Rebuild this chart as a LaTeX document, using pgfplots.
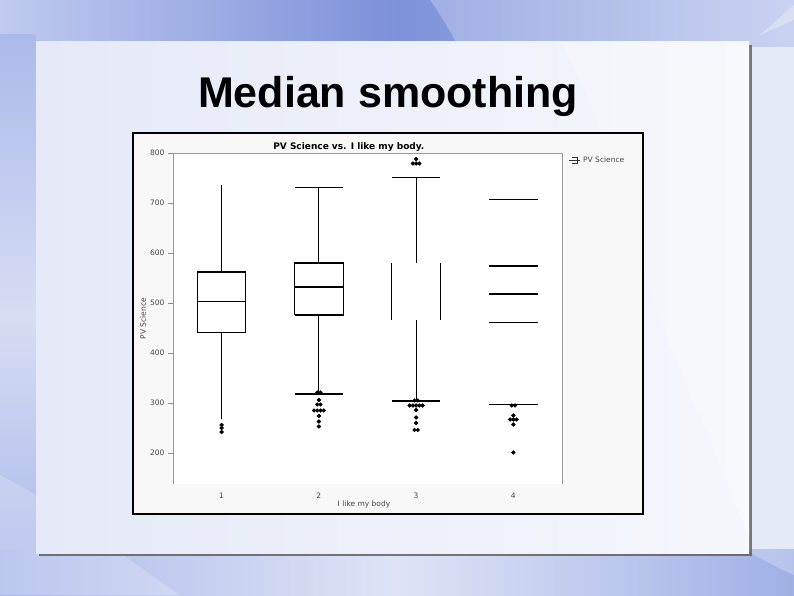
\documentclass[border=0pt]{standalone}
\usepackage{fontspec}
\setmainfont{Liberation Sans}
\newfontfamily\dejavu{DejaVu Sans}
\usepackage{pgfplots}
\pgfplotsset{compat=1.18}
\definecolor{bgbase}{RGB}{221,227,245}
\definecolor{bandL}{RGB}{192,202,239}
\definecolor{bandM}{RGB}{125,145,217}
\definecolor{bandR}{RGB}{184,196,237}
\definecolor{panelL}{RGB}{230,234,248}
\definecolor{panelR}{RGB}{245,247,252}
\definecolor{framebg}{RGB}{248,248,248}
\definecolor{ticktext}{RGB}{70,70,70}
\begin{document}
\begin{tikzpicture}
\begin{scope}[x=1pt,y=1pt]
\useasboundingbox (0,0) rectangle (794,595);
\clip (0,0) rectangle (794,595);
% slide background
\fill[bgbase] (0,0) rectangle (794,595);
\shade[left color=bandL, right color=bandR, middle color=bandM] (0,548) rectangle (794,595);
\shade[top color={rgb,255:red,172;green,186;blue,234}, bottom color={rgb,255:red,168;green,182;blue,232}, middle color={rgb,255:red,214;green,221;blue,244}] (0,0) rectangle (36,560);
\shade[left color={rgb,255:red,172;green,186;blue,234}, right color={rgb,255:red,160;green,176;blue,230}, middle color={rgb,255:red,222;green,228;blue,246}] (0,0) rectangle (794,46);
\fill[white, opacity=0.25] (430,595) .. controls (470,540) and (520,420) .. (560,300) .. controls (600,180) and (660,80) .. (794,20) -- (794,595) -- cycle;
\fill[white, opacity=0.20] (0,120) .. controls (60,90) and (120,40) .. (180,0) -- (0,0) -- cycle;
\fill[white, opacity=0.3] (760,560) -- (794,590) -- (794,575) -- cycle;
% panel
\fill[black!65, opacity=0.8] (39,39) rectangle (752,550);
\shade[left color=panelL, right color=panelR] (36,42) rectangle (749,553);
\fill[white, opacity=0.25] (560,553) .. controls (620,450) and (640,300) .. (700,180) .. controls (720,130) and (735,90) .. (749,60) -- (749,553) -- cycle;
% slide title
\node[anchor=base, font=\bfseries\fontsize{43}{50}\selectfont] at (388,487.7) {Median smoothing};
% chart frame
\filldraw[fill=framebg, draw=black, line width=1.1pt] (133,81) rectangle (643,462);
% legend
\draw[black!80, line width=0.6pt] (572,438) -- (577,438) -- (577,432) -- (572,432) (569,435) -- (580,435);
\node[anchor=west, inner sep=0pt, font=\dejavu\fontsize{7.5}{9}\selectfont, text=ticktext] at (583,435) {PV Science};
\end{scope}
\begin{axis}[
  at={(173pt,111pt)}, anchor=south west,
  scale only axis, width=389pt, height=331pt,
  xmin=0.5, xmax=4.5, ymin=138, ymax=800,
  xtick={1,2,3,4}, ytick={200,300,400,500,600,700,800},
  ytick pos=left, xtick pos=bottom,
  axis background/.style={fill=white},
  axis line style={draw=none},
  tick align=outside,
  xtick style={draw=none},
  ytick style={black!45, line width=0.6pt},
  major tick length=5pt,
  /pgf/number format/assume math mode=true,
  tick label style={font=\dejavu\fontsize{7.5}{9}\selectfont, text=ticktext},
  title={PV Science vs. I like my body.},
  title style={at={(axis description cs:0.452,1.0)}, anchor=center, font=\dejavu\bfseries\fontsize{9}{11}\selectfont},
  xlabel={I like my body},
  xlabel style={at={(axis description cs:0.491,-0.0604)}, anchor=center, font=\dejavu\fontsize{7.5}{9}\selectfont, text=ticktext},
  ylabel={PV Science},
  ylabel style={at={(axis description cs:-0.0771,0.5)}, anchor=center, font=\dejavu\fontsize{7.5}{9}\selectfont, text=ticktext},
  unbounded coords=jump,
  clip=false,
]
% axis frame (left, top, right)
\draw[black!40, line width=0.8pt] (rel axis cs:0,0) -- (rel axis cs:0,1) -- (rel axis cs:1,1) -- (rel axis cs:1,0);
% box 1
\addplot[black, line width=1.1pt, mark=none] coordinates {
 (0.75,441) (1.25,441) (1.25,562) (0.75,562) (0.75,441)
 (nan,nan) (0.75,503) (1.25,503)
 (nan,nan) (1,562) (1,736)
 (nan,nan) (1,441) (1,269)
};
% box 2
\addplot[black, line width=1.1pt, mark=none] coordinates {
 (1.75,476) (2.25,476) (2.25,580) (1.75,580) (1.75,476)
 (nan,nan) (1.75,532) (2.25,532)
 (nan,nan) (2,580) (2,731)
 (nan,nan) (1.75,731) (2.25,731)
 (nan,nan) (2,476) (2,318)
 (nan,nan) (1.75,318) (2.25,318)
};
% box 3
\addplot[black, line width=1.1pt, mark=none] coordinates {
 (2.75,467) (2.75,580)
 (nan,nan) (3.25,467) (3.25,580)
 (nan,nan) (3,580) (3,751)
 (nan,nan) (2.75,751) (3.25,751)
 (nan,nan) (3,467) (3,304)
 (nan,nan) (2.75,304) (3.25,304)
};
% box 4
\addplot[black, line width=1.1pt, mark=none] coordinates {
 (3.75,707) (4.25,707)
 (nan,nan) (3.75,574) (4.25,574)
 (nan,nan) (3.75,518) (4.25,518)
 (nan,nan) (3.75,461) (4.25,461)
 (nan,nan) (3.75,297) (4.25,297)
};
% outliers
\addplot[only marks, mark=*, mark size=1.9pt, black] coordinates {
 (1,256) (1,250) (1,242)
 (1.983,321) (2.017,321) (2,306) (1.983,297) (2.017,297)
 (1.95,285) (1.983,285) (2.017,285) (2.05,285)
 (2,274) (2,263) (2,253)
 (3,788) (2.967,779) (3,779) (3.033,779)
 (2.983,305) (3.017,305)
 (2.933,295) (2.967,295) (3,295) (3.033,295) (3.067,295)
 (3,286) (3,271) (3,260) (2.983,246) (3.017,246)
 (3.983,295) (4.017,295) (4,275) (3.967,267) (4,267) (4.033,267) (4,257) (4,201)
};
\end{axis}
\end{tikzpicture}
\end{document}
